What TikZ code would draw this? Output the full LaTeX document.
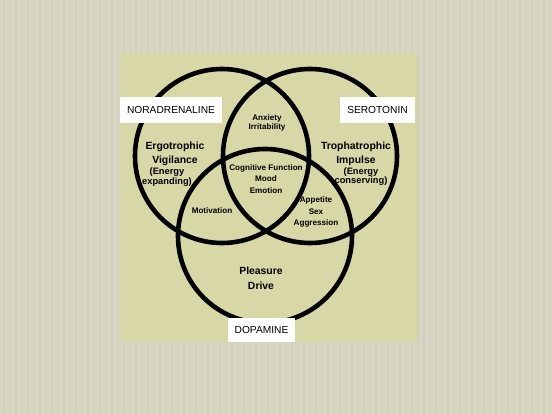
\documentclass[tikz,border=0pt]{standalone}
\usepackage{fontspec}
\setmainfont{Liberation Sans}
\definecolor{outerbg}{HTML}{D6D6C3}
\definecolor{panelbg}{HTML}{D8D7A6}
\definecolor{stripe}{HTML}{D0D0BC}
\tikzset{
  ring/.style={circle, draw=black, line width=4.6pt, minimum size=174pt, inner sep=0pt},
  tagbox/.style={fill=white, draw=none, inner sep=0pt, font=\fontsize{10.2}{12}\selectfont},
  smalltxt/.style={align=center, inner sep=0pt, font=\bfseries\fontsize{8.1}{12}\selectfont},
  bigtxt/.style={align=center, inner sep=0pt, font=\bfseries\fontsize{10.4}{15}\selectfont},
  energytxt/.style={align=center, inner sep=0pt, font=\bfseries\fontsize{9.3}{6.5}\selectfont}
}
\begin{document}
\begin{tikzpicture}[x=1pt, y=-1pt]
\useasboundingbox (0,0) rectangle (552,414);
\fill[outerbg] (0,0) rectangle (552,414);
\foreach \sx in {3,9,...,551} {\fill[stripe] (\sx,0) rectangle (\sx+1.5,414);}
\fill[panelbg] (120,54) rectangle (417,342);
% circles
\node[ring] (nor) at (222,156) {};
\node[ring] (ser) at (310,156) {};
\node[ring] (dop) at (265,236) {};
% labels
\node[tagbox, minimum width=102pt, minimum height=26pt] (norl) at (171,110) {NORADRENALINE};
\node[tagbox, minimum width=75pt, minimum height=26pt] (serl) at (377.5,110) {SEROTONIN};
\node[tagbox, minimum width=67pt, minimum height=24pt] (dopl) at (261.5,330) {DOPAMINE};
% region texts
\node[smalltxt] (anx) at (267,123) {Anxiety\\[-3pt]Irritability};
\node[bigtxt] (erg) at (175,154) {Ergotrophic\\[-1pt]Vigilance};
\node[energytxt] (ergE) at (167,177) {(Energy\\expanding)};
\node[bigtxt] (tro) at (356,154) {Trophatrophic\\[-1pt]Impulse};
\node[energytxt] (troE) at (361,176.5) {(Energy\\conserving)};
\node[smalltxt] (cog) at (266,179) {Cognitive Function\\[-0.5pt]Mood\\[-0.5pt]Emotion};
\node[smalltxt] (mot) at (212,211) {Motivation};
\node[smalltxt] (app) at (316,212) {Appetite\\[-0.5pt]Sex\\[-0.5pt]Aggression};
\node[bigtxt] (ple) at (261,278.5) {Pleasure\\Drive};
\end{tikzpicture}
\end{document}
